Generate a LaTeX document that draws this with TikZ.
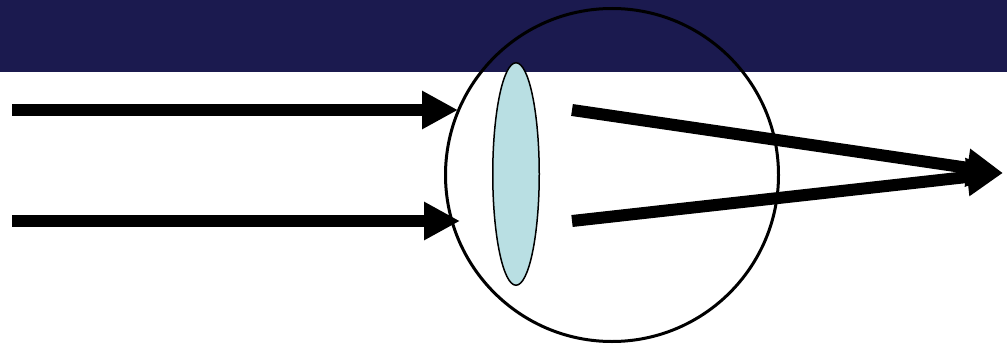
\documentclass[tikz,border=0pt]{standalone}
\usetikzlibrary{arrows.meta,shapes.geometric}
\definecolor{bandnavy}{HTML}{1B1A4F}
\definecolor{lensblue}{HTML}{B9DFE3}
\begin{document}
\begin{tikzpicture}[x=1pt,y=-1pt,
  ray/.style={line width=12pt,-{Triangle[length=36pt,width=36pt]}},
  eyeball/.style={circle,draw,line width=3pt,inner sep=0pt,minimum size=333pt},
  lens/.style={ellipse,draw,line width=1.5pt,fill=lensblue,inner sep=0pt,minimum width=46.5pt,minimum height=222.5pt}]
  \useasboundingbox (0,0) rectangle (1007,348);
  % title band
  \fill[bandnavy] (0,0) rectangle (1007,72);
  % eye and lens
  \node[eyeball] (eye) at (612,175) {};
  \node[lens] (lens) at (516,174) {};
  % incoming parallel rays
  \coordinate (in1) at (12,110);
  \coordinate (in1e) at (458,110);
  \coordinate (in2) at (12,221);
  \coordinate (in2e) at (460,221);
  \draw[ray] (in1) -- (in1e);
  \draw[ray] (in2) -- (in2e);
  % refracted rays meeting at the focus
  \coordinate (out1) at (572,110);
  \coordinate (out2) at (572,221);
  \coordinate (focus) at (1003,173);
  \draw[ray] (out2) -- (focus);
  \draw[ray] (out1) -- (focus);
\end{tikzpicture}
\end{document}
